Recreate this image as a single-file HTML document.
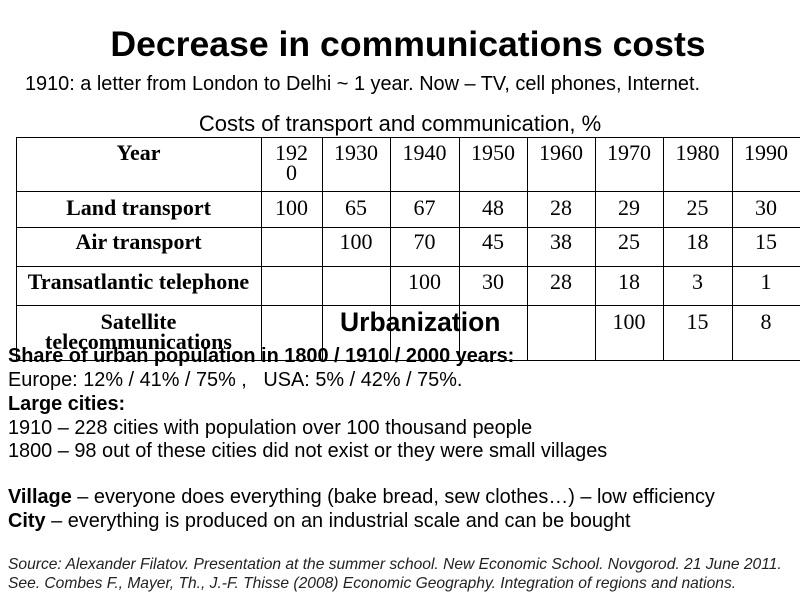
<!DOCTYPE html>
<html><head><style>
body{margin:0;width:800px;height:600px;background:#fff;position:relative;overflow:hidden;font-family:"Liberation Sans",sans-serif;color:#000}
.a{position:absolute;white-space:nowrap}
.s{font-family:"Liberation Serif",serif;font-size:22px;text-align:center;position:absolute;line-height:20px;white-space:nowrap}
.hl{position:absolute;height:1px;background:#000}
.vl{position:absolute;width:1px;background:#000}
.t{font-size:19.9px;line-height:24px;left:8px}
</style></head><body>
<div class="a" style="left:0;width:816px;text-align:center;top:24px;font-size:35.6px;font-weight:bold;line-height:40px">Decrease in communications costs</div>
<div class="a" style="left:25px;top:73px;font-size:19.9px;line-height:22px">1910: a letter from London to Delhi ~ 1 year. Now – TV, cell phones, Internet.</div>
<div class="a" style="left:0;width:800px;text-align:center;top:112px;font-size:22px;line-height:24px">Costs of transport and communication, %</div>

<div class="hl" style="left:16px;width:784px;top:137px"></div>
<div class="hl" style="left:16px;width:784px;top:191px"></div>
<div class="hl" style="left:16px;width:784px;top:227px"></div>
<div class="hl" style="left:16px;width:784px;top:266px"></div>
<div class="hl" style="left:16px;width:784px;top:305px"></div>
<div class="hl" style="left:16px;width:784px;top:360px"></div>
<div class="vl" style="left:16px;top:137px;height:224px"></div>
<div class="vl" style="left:261px;top:137px;height:224px"></div>
<div class="vl" style="left:322px;top:137px;height:224px"></div>
<div class="vl" style="left:390px;top:137px;height:224px"></div>
<div class="vl" style="left:459px;top:137px;height:224px"></div>
<div class="vl" style="left:527px;top:137px;height:224px"></div>
<div class="vl" style="left:595px;top:137px;height:224px"></div>
<div class="vl" style="left:663px;top:137px;height:224px"></div>
<div class="vl" style="left:732px;top:137px;height:224px"></div>

<div class="s" style="left:16px;width:245px;top:143px;font-weight:bold">Year</div>
<div class="s" style="left:261px;width:61px;top:143px">192<br>0</div>
<div class="s" style="left:322px;width:68px;top:143px">1930</div>
<div class="s" style="left:390px;width:69px;top:143px">1940</div>
<div class="s" style="left:459px;width:68px;top:143px">1950</div>
<div class="s" style="left:527px;width:68px;top:143px">1960</div>
<div class="s" style="left:595px;width:68px;top:143px">1970</div>
<div class="s" style="left:663px;width:69px;top:143px">1980</div>
<div class="s" style="left:732px;width:68px;top:143px">1990</div>

<div class="s" style="left:16px;width:245px;top:198px;font-weight:bold">Land transport</div>
<div class="s" style="left:261px;width:61px;top:198px">100</div>
<div class="s" style="left:322px;width:68px;top:198px">65</div>
<div class="s" style="left:390px;width:69px;top:198px">67</div>
<div class="s" style="left:459px;width:68px;top:198px">48</div>
<div class="s" style="left:527px;width:68px;top:198px">28</div>
<div class="s" style="left:595px;width:68px;top:198px">29</div>
<div class="s" style="left:663px;width:69px;top:198px">25</div>
<div class="s" style="left:732px;width:68px;top:198px">30</div>

<div class="s" style="left:16px;width:245px;top:232px;font-weight:bold">Air transport</div>
<div class="s" style="left:322px;width:68px;top:232px">100</div>
<div class="s" style="left:390px;width:69px;top:232px">70</div>
<div class="s" style="left:459px;width:68px;top:232px">45</div>
<div class="s" style="left:527px;width:68px;top:232px">38</div>
<div class="s" style="left:595px;width:68px;top:232px">25</div>
<div class="s" style="left:663px;width:69px;top:232px">18</div>
<div class="s" style="left:732px;width:68px;top:232px">15</div>

<div class="s" style="left:16px;width:245px;top:272px;font-weight:bold">Transatlantic telephone</div>
<div class="s" style="left:390px;width:69px;top:272px">100</div>
<div class="s" style="left:459px;width:68px;top:272px">30</div>
<div class="s" style="left:527px;width:68px;top:272px">28</div>
<div class="s" style="left:595px;width:68px;top:272px">18</div>
<div class="s" style="left:663px;width:69px;top:272px">3</div>
<div class="s" style="left:732px;width:68px;top:272px">1</div>

<div class="s" style="left:16px;width:245px;top:312px;font-weight:bold">Satellite<br>telecommunications</div>
<div class="s" style="left:595px;width:68px;top:312px">100</div>
<div class="s" style="left:663px;width:69px;top:312px">15</div>
<div class="s" style="left:732px;width:68px;top:312px">8</div>

<div class="a" style="left:340px;top:306px;font-size:26.5px;font-weight:bold;line-height:32px">Urbanization</div>

<div class="a t" style="top:344px;font-weight:bold">Share of urban population in 1800 / 1910 / 2000 years:</div>
<div class="a t" style="top:368px">Europe: 12% / 41% / 75% , &nbsp; USA: 5% / 42% / 75%.</div>
<div class="a t" style="top:392px;font-weight:bold">Large cities:</div>
<div class="a t" style="top:416px">1910 – 228 cities with population over 100 thousand people</div>
<div class="a t" style="top:439px">1800 – 98 out of these cities did not exist or they were small villages</div>
<div class="a t" style="top:485px"><b>Village</b> – everyone does everything (bake bread, sew clothes…) – low efficiency</div>
<div class="a t" style="top:509px"><b>City</b> – everything is produced on an industrial scale and can be bought</div>
<div class="a" style="left:8px;top:555px;font-size:15.6px;line-height:19px;font-style:italic;color:#222">Source: Alexander Filatov. Presentation at the summer school. New Economic School. Novgorod. 21 June 2011.<br>See. Combes F., Mayer, Th., J.-F. Thisse (2008) Economic Geography. Integration of regions and nations.</div>
</body></html>
